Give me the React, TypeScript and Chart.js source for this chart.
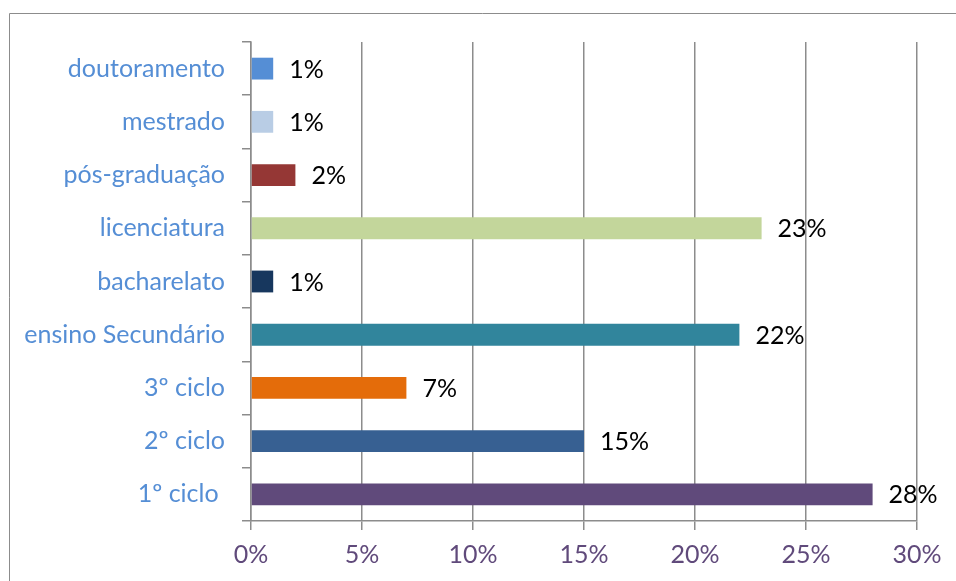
import React, { useEffect, useRef } from "react";
import { Chart, registerables } from "chart.js";

Chart.register(...registerables);

const categories = [
  "doutoramento",
  "mestrado",
  "pós-graduação",
  "licenciatura",
  "bacharelato",
  "ensino Secundário",
  "3º ciclo",
  "2º ciclo",
  "1º ciclo ",
];
const values = [1, 1, 2, 23, 1, 22, 7, 15, 28];
const barColors = [
  "#558ED5",
  "#B9CDE5",
  "#953735",
  "#C3D69B",
  "#17375E",
  "#31859C",
  "#E46C0A",
  "#376092",
  "#604A7B",
];
const xTickStep = 5;
const xMax = 30;

const FONT = "Lato, 'Open Sans', sans-serif";

const frameAndLabels = {
  id: "frameAndLabels",
  beforeDraw(chart: any) {
    const ctx = chart.ctx;
    ctx.save();
    ctx.strokeStyle = "#8c8c8c";
    ctx.lineWidth = 1;
    ctx.beginPath();
    ctx.moveTo(9.5, chart.height);
    ctx.lineTo(9.5, 13.5);
    ctx.lineTo(chart.width, 13.5);
    ctx.stroke();
    ctx.restore();
  },
  afterDatasetsDraw(chart: any) {
    const ctx = chart.ctx;
    const meta = chart.getDatasetMeta(0);
    ctx.save();
    ctx.fillStyle = "#000000";
    ctx.font = `25px ${FONT}`;
    ctx.textAlign = "left";
    ctx.textBaseline = "middle";
    meta.data.forEach((el: any, i: number) => {
      ctx.fillText(values[i] + "%", el.x + 16, el.y + 1);
    });
    ctx.restore();
  },
};

export default function App() {
  const ref = useRef<HTMLCanvasElement>(null);
  useEffect(() => {
    if (!ref.current) return;
    const chart = new Chart(ref.current, {
      type: "bar",
      data: {
        labels: categories,
        datasets: [
          {
            data: values,
            backgroundColor: barColors,
            borderWidth: 0,
            barPercentage: 0.41,
            categoryPercentage: 1,
          },
        ],
      },
      options: {
        indexAxis: "y",
        responsive: false,
        animation: false,
        layout: { padding: { top: 42, right: 39, left: 0, bottom: 0 } },
        plugins: {
          legend: { display: false },
          tooltip: { enabled: false },
        },
        scales: {
          x: {
            min: 0,
            max: xMax,
            afterFit(scale: any) {
              scale.height = 60;
            },
            ticks: {
              stepSize: xTickStep,
              callback: (v: any) => v + "%",
              color: "#604A7B",
              font: { family: FONT, size: 25 },
              padding: 10,
              maxRotation: 0,
            },
            grid: {
              color: "#8c8c8c",
              lineWidth: 1.5,
              tickLength: 9,
            },
            border: { color: "#8c8c8c", width: 1.5 },
          },
          y: {
            afterFit(scale: any) {
              scale.width = 251;
            },
            ticks: {
              color: "#558ED5",
              font: { family: FONT, size: 25 },
              padding: 17,
            },
            grid: {
              drawOnChartArea: false,
              drawTicks: true,
              tickLength: 9,
              color: "#8c8c8c",
              lineWidth: 1.5,
            },
            border: { color: "#8c8c8c", width: 1.5 },
          },
        },
      },
      plugins: [frameAndLabels],
    });
    return () => chart.destroy();
  }, []);
  return (
    <div style={{ position: "absolute", left: 0, top: 0, width: 956, height: 581, background: "#fff" }}>
      <canvas ref={ref} width={956} height={581} />
    </div>
  );
}
